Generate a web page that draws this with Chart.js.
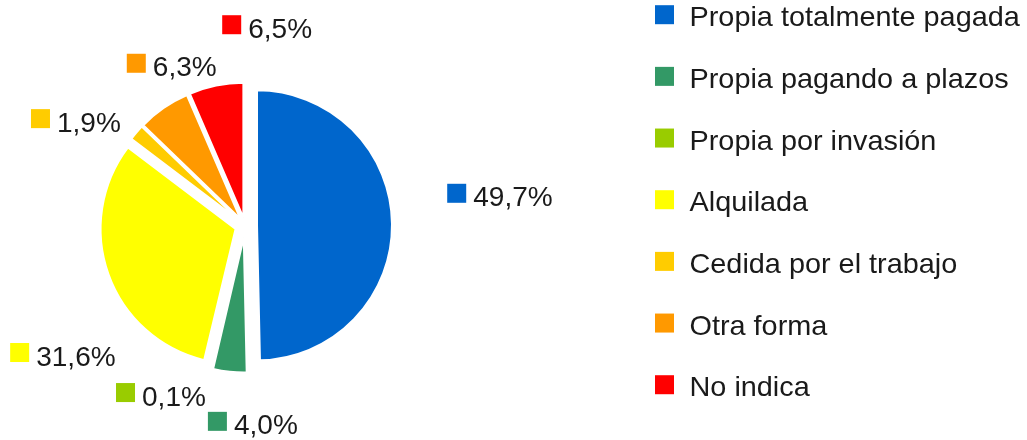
<!DOCTYPE html>
<html>
<head>
<meta charset="utf-8">
<script src="https://cdn.jsdelivr.net/npm/chart.js@4"></script>
<style>html,body{margin:0;padding:0;background:#fff}</style>
</head>
<body>
<canvas id="pieChart" width="1027" height="440"></canvas>
<script>
const categories = ["Propia totalmente pagada", "Propia pagando a plazos", "Propia por invasión", "Alquilada", "Cedida por el trabajo", "Otra forma", "No indica"];
const shares = [49.7, 4.0, 0.1, 31.6, 1.9, 6.3, 6.5];
const colors = ["#0066cc", "#339966", "#99cc00", "#ffff00", "#ffcc00", "#ff9900", "#ff0000"];

// slice pull-out (px) and label placement (polar from pie centre: degrees clockwise from top, px)
const explode = [12, 12, 12, 10, 8, 8, 8];
const labelAngle = [82.8, 177.7, 206.7, 235.1, 302.3, 335.7, 6.3];
const labelDist = [257, 196, 187, 222, 200, 178, 202];

const fontFamily = "'Liberation Sans', Arial, sans-serif";
const textColor = "#1a1a1a";
const fmt = v => v.toFixed(1).replace(".", ",") + "%";

const explodePlugin = {
  id: "explode",
  afterDatasetsUpdate(chart) {
    chart.getDatasetMeta(0).data.forEach((arc, i) => {
      const mid = (arc.startAngle + arc.endAngle) / 2;
      arc.x += Math.cos(mid) * explode[i];
      arc.y += Math.sin(mid) * explode[i];
    });
  }
};

// text in the source is a touch wider than Arial, so stretch it slightly
function stretchedText(ctx, txt, x, y, sx) {
  ctx.save();
  ctx.translate(x, y);
  ctx.scale(sx, 1);
  ctx.fillText(txt, 0, 0);
  ctx.restore();
}

const labelsPlugin = {
  id: "sliceLabels",
  afterDraw(chart) {
    const ctx = chart.ctx;
    const area = chart.chartArea;
    const cx = (area.left + area.right) / 2;
    const cy = (area.top + area.bottom) / 2;
    ctx.save();
    ctx.font = "27.5px " + fontFamily;
    ctx.textBaseline = "alphabetic";
    shares.forEach((v, i) => {
      const a = labelAngle[i] * Math.PI / 180;
      const x = cx + Math.sin(a) * labelDist[i];
      const y = cy - Math.cos(a) * labelDist[i];
      const txt = fmt(v);
      const w = 26 + ctx.measureText(txt).width * 1.02;
      const left = x - w / 2;
      ctx.fillStyle = colors[i];
      ctx.fillRect(left, y - 9.5, 19, 19);
      ctx.fillStyle = textColor;
      stretchedText(ctx, txt, left + 26, y + 13, 1.02);
    });

    // legend on the right
    ctx.font = "28px " + fontFamily;
    categories.forEach((c, i) => {
      const y = 14.7 + i * 61.67;
      ctx.fillStyle = colors[i];
      ctx.fillRect(655, y - 9.5, 19, 19);
      ctx.fillStyle = textColor;
      stretchedText(ctx, c, 689.5, y + 11.5, 1.03);
    });
    ctx.restore();
  }
};

new Chart(document.getElementById("pieChart"), {
  type: "pie",
  data: {
    labels: categories,
    datasets: [{
      data: shares,
      backgroundColor: colors,
      borderColor: "#ffffff",
      borderWidth: 2
    }]
  },
  options: {
    responsive: false,
    animation: false,
    events: [],
    radius: 135,
    layout: { padding: { left: 50, right: 587, top: 11, bottom: 0 } },
    plugins: {
      legend: { display: false },
      tooltip: { enabled: false }
    }
  },
  plugins: [explodePlugin, labelsPlugin]
});
</script>
</body>
</html>
